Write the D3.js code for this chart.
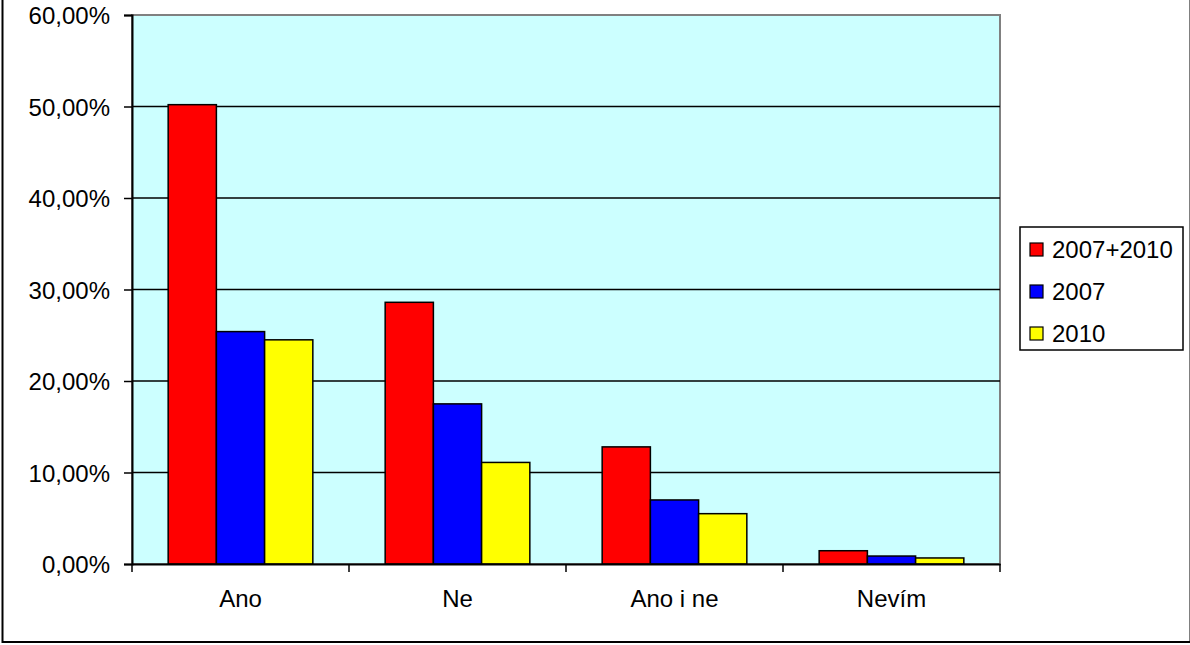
<!DOCTYPE html>
<html>
<head>
<meta charset="utf-8">
<script src="https://cdn.jsdelivr.net/npm/d3@7"></script>
<style>
body { margin: 0; background: #fff; }
svg text { font-family: "Liberation Sans", Arial, sans-serif; font-size: 24px; fill: #000; }
</style>
</head>
<body>
<svg width="1190" height="645"></svg>
<script>
var categories = ["Ano", "Ne", "Ano i ne", "Nevím"];
var seriesNames = ["2007+2010", "2007", "2010"];
var seriesColors = ["#FF0000", "#0000FF", "#FFFF00"];
var values2007_2010 = [50.2, 28.6, 12.8, 1.45];
var values2007 = [25.4, 17.5, 7.0, 0.87];
var values2010 = [24.5, 11.1, 5.5, 0.66];
var yTicks = [0, 10, 20, 30, 40, 50, 60];

var svg = d3.select("svg"),
  width = +svg.attr("width"),
  height = +svg.attr("height");

// outer chart frame
svg.append("rect")
  .attr("x", 2.5).attr("y", -3)
  .attr("width", 1188).attr("height", 645)
  .style("fill", "#fff")
  .style("stroke", "#000")
  .style("stroke-width", 2);

var plotLeft = 132, plotRight = 1000, plotTop = 15, plotBottom = 564;

var x0 = d3.scaleBand().domain(categories).range([plotLeft, plotRight]);
var x1 = d3.scaleBand().domain(seriesNames)
  .range([0, x0.bandwidth()])
  .paddingOuter(0.75).paddingInner(0);
var y = d3.scaleLinear().domain([0, 60]).range([plotBottom, plotTop]);

var color = d3.scaleOrdinal().domain(seriesNames).range(seriesColors);

var rows = categories.map(function(c, i) {
  return { cat: c, vals: [values2007_2010[i], values2007[i], values2010[i]] };
});

// plot background
svg.append("rect")
  .attr("x", plotLeft).attr("y", plotTop)
  .attr("width", plotRight - plotLeft).attr("height", plotBottom - plotTop)
  .style("fill", "#CCFFFF")
  .style("stroke", "#808080")
  .style("stroke-width", 2);

// gridlines
svg.append("g").selectAll("line")
  .data(yTicks.slice(1, -1))
  .enter().append("line")
  .attr("x1", plotLeft).attr("x2", plotRight)
  .attr("y1", function(d) { return y(d); })
  .attr("y2", function(d) { return y(d); })
  .style("stroke", "#000")
  .style("stroke-width", 1.5);

// bars
svg.append("g").selectAll("g")
  .data(rows)
  .enter().append("g")
  .attr("transform", function(d) { return "translate(" + x0(d.cat) + ",0)"; })
  .selectAll("rect")
  .data(function(d) { return d.vals.map(function(v, i) { return { name: seriesNames[i], v: v }; }); })
  .enter().append("rect")
  .attr("x", function(d) { return x1(d.name); })
  .attr("width", x1.bandwidth())
  .attr("y", function(d) { return y(d.v); })
  .attr("height", function(d) { return plotBottom - y(d.v); })
  .style("fill", function(d) { return color(d.name); })
  .style("stroke", "#000")
  .style("stroke-width", 1.5);

// y axis
var yAxis = svg.append("g")
  .attr("transform", "translate(" + plotLeft + ",0)")
  .call(d3.axisLeft(y).tickValues(yTicks).tickSize(8).tickPadding(14)
    .tickFormat(function(d) { return d3.format(".2f")(d).replace(".", ",") + "%"; }));
yAxis.select(".domain").style("stroke", "#000").style("stroke-width", 2);
yAxis.selectAll(".tick line").style("stroke", "#000").style("stroke-width", 1.5);
yAxis.selectAll("text").style("font-size", "24px").style("font-family", "Liberation Sans, Arial, sans-serif").attr("dy", "0.36em");

// x axis
var xAxis = svg.append("g")
  .attr("transform", "translate(0," + plotBottom + ")")
  .call(d3.axisBottom(x0).tickSize(0).tickPadding(26));
xAxis.select(".domain").style("stroke", "#000").style("stroke-width", 2);
xAxis.selectAll("text").style("font-size", "24px").style("font-family", "Liberation Sans, Arial, sans-serif");

// x boundary ticks
var boundaries = categories.map(function(c) { return x0(c); }).concat([plotRight]);
svg.append("g").selectAll("line")
  .data(boundaries)
  .enter().append("line")
  .attr("x1", function(d) { return d; }).attr("x2", function(d) { return d; })
  .attr("y1", plotBottom).attr("y2", plotBottom + 8)
  .style("stroke", "#000")
  .style("stroke-width", 1.5);

// legend
var legend = svg.append("g").attr("transform", "translate(1020,227)");
legend.append("rect")
  .attr("width", 163).attr("height", 123)
  .style("fill", "#fff")
  .style("stroke", "#000")
  .style("stroke-width", 1.5);
var item = legend.selectAll(".item")
  .data(seriesNames)
  .enter().append("g")
  .attr("transform", function(d, i) { return "translate(10," + (16 + i * 42) + ")"; });
item.append("rect")
  .attr("width", 13).attr("height", 13)
  .style("fill", function(d) { return color(d); })
  .style("stroke", "#000")
  .style("stroke-width", 1.2);
item.append("text")
  .attr("x", 22).attr("y", 15)
  .text(function(d) { return d; });
</script>
</body>
</html>
